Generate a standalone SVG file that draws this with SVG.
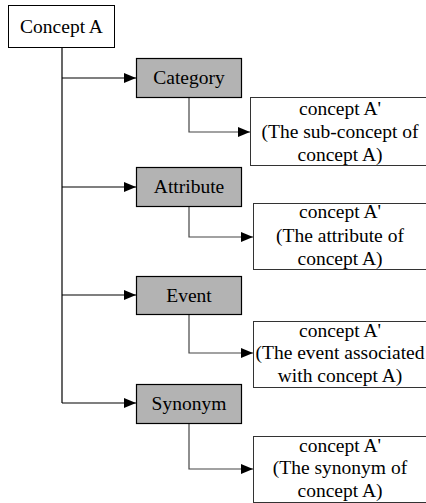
<svg xmlns="http://www.w3.org/2000/svg" width="426" height="503" viewBox="0 0 426 503">
<style>
text{font-family:'Liberation Serif','Times New Roman',Times,'DejaVu Serif',serif;font-size:19.5px;fill:#000;text-anchor:middle}
.w{fill:#fff;stroke:#000;stroke-width:1}
.g{fill:#b3b3b3;stroke:#000;stroke-width:1.2}
.c{fill:#fff;stroke:#333;stroke-width:1}
.l{fill:none;stroke:#000;stroke-width:1.2}
.s{fill:none;stroke:#444;stroke-width:1.2}
</style>
<defs>
<marker id="ah" markerWidth="12" markerHeight="10" refX="12" refY="5" orient="auto" markerUnits="userSpaceOnUse">
<path d="M0,0 L12,5 L0,10 Z" fill="#000"/>
</marker>
</defs>
<rect width="426" height="503" fill="#fff"/>
<g id="connectors">
<path class="l" d="M62,48 V403"/>
<path class="l" d="M62,78 H136" marker-end="url(#ah)"/>
<path class="l" d="M62,187 H136" marker-end="url(#ah)"/>
<path class="l" d="M62,295 H136" marker-end="url(#ah)"/>
<path class="l" d="M62,403 H136" marker-end="url(#ah)"/>
<path class="s" d="M189,98 V132 H250" marker-end="url(#ah)"/>
<path class="s" d="M189,206 V237 H253" marker-end="url(#ah)"/>
<path class="s" d="M189,314 V353 H253" marker-end="url(#ah)"/>
<path class="s" d="M189,423 V469 H253" marker-end="url(#ah)"/>
</g>
<g id="conceptA" font-family="Liberation Serif, serif">
<rect class="w" x="8.5" y="5.5" width="106" height="42"/>
<text x="61.5" y="33">Concept A</text>
</g>
<g id="category">
<rect class="g" x="136.5" y="58.5" width="105" height="39"/>
<text x="189" y="84">Category</text>
</g>
<g id="attribute">
<rect class="g" x="136.5" y="167.5" width="105" height="39"/>
<text x="189" y="193">Attribute</text>
</g>
<g id="event">
<rect class="g" x="136.5" y="276.5" width="105" height="38"/>
<text x="189" y="302">Event</text>
</g>
<g id="synonym">
<rect class="g" x="136.5" y="384.5" width="105" height="39"/>
<text x="189" y="410">Synonym</text>
</g>
<g id="sub1">
<rect class="c" x="250.5" y="97.5" width="180" height="68"/>
<text x="340" y="115">concept A'</text>
<text x="340" y="138">(The sub-concept of</text>
<text x="340" y="161">concept A)</text>
</g>
<g id="sub2">
<rect class="c" x="253.5" y="203.5" width="180" height="66"/>
<text x="340" y="218">concept A'</text>
<text x="340" y="242">(The attribute of</text>
<text x="340" y="265">concept A)</text>
</g>
<g id="sub3">
<rect class="c" x="253.5" y="321.5" width="180" height="66"/>
<text x="340" y="337">concept A'</text>
<text x="340" y="359">(The event associated</text>
<text x="340" y="382">with concept A)</text>
</g>
<g id="sub4">
<rect class="c" x="253.5" y="436.5" width="180" height="66"/>
<text x="340" y="452">concept A'</text>
<text x="340" y="474">(The synonym of</text>
<text x="340" y="497">concept A)</text>
</g>
</svg>
